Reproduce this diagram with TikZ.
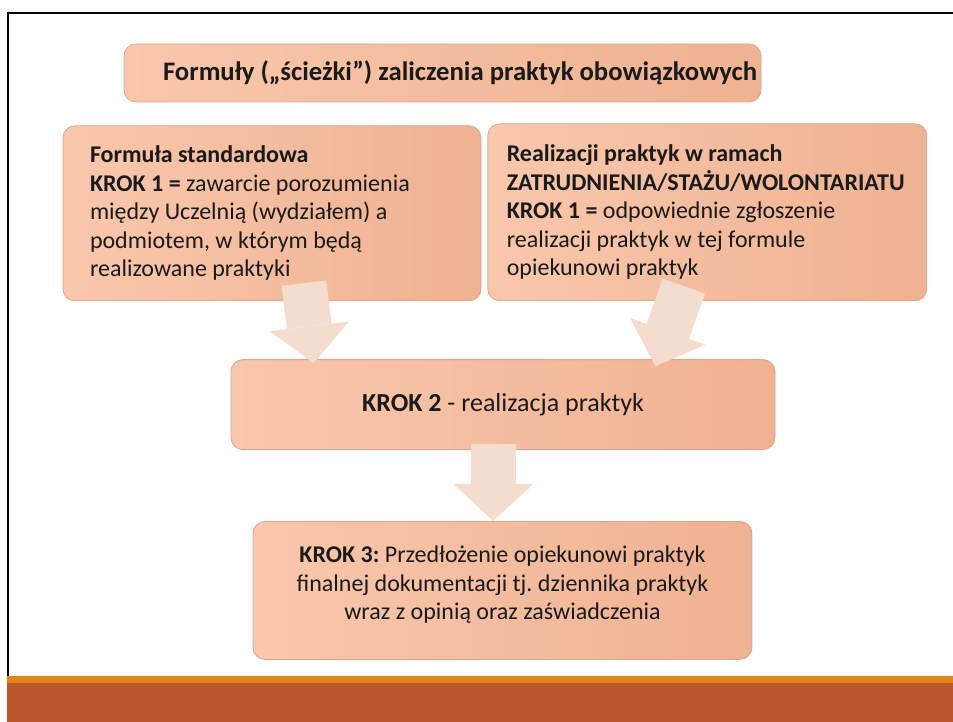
\documentclass[tikz,border=0pt]{standalone}
\usepackage{fontspec}
\setmainfont{Carlito}
\usepackage{xcolor}
\usepackage{tikz}
\usetikzlibrary{positioning,calc}
\usetikzlibrary{arrows.meta}
\hyphenpenalty=10000
\exhyphenpenalty=10000
\frenchspacing

\definecolor{boxleft}{HTML}{F9C7AC}
\definecolor{boxright}{HTML}{EFB292}
\definecolor{boxline}{HTML}{D5A690}
\definecolor{arrowfill}{HTML}{F4DDCF}
\definecolor{stripe}{HTML}{E3831B}
\definecolor{barbrown}{HTML}{BC572B}
\definecolor{inktext}{HTML}{1A1A1A}

\begin{document}
\begin{tikzpicture}[x=1pt, y=1pt]
	\useasboundingbox (0,0) rectangle (953,-722);
	\fill[stripe] (7,-676) rectangle (953,-683);
	\fill[barbrown] (7,-683) rectangle (953,-722);
	\draw[line width=1.7pt] (8,-676) -- (8,-13) -- (953,-13);

	\begin{scope}[every node/.style={draw=boxline, line width=0.8pt, rounded corners=12pt, left color=boxleft, right color=boxright, text=inktext, font=\fontsize{24pt}{28.5pt}\selectfont}]
	    \node[minimum height=58pt, text width=559pt, inner xsep=39pt, inner ysep=0pt, align=flush left, font=\fontsize{26.7pt}{30pt}\selectfont] (title) at (442.5,-73) {\mbox{\textbf{Formuły („ścieżki”) zaliczenia praktyk obowiązkowych}}};
	    \node[below = 23pt of title.south west, anchor=north west, xshift=-61pt, minimum height=175pt, text width=364pt, inner xsep=27pt, inner ysep=0pt, align=flush left] (std) {\textbf{Formuła standardowa}\\\textbf{KROK 1 =} zawarcie porozumienia\\między Uczelnią (wydziałem) a\\podmiotem, w którym będą\\realizowane praktyki};
	    \node[right = 6pt of std.north east, anchor=north west, yshift=2pt, minimum height=177pt, text width=401pt, inner xsep=19pt, inner ysep=0pt, align=flush left] (job) {\textbf{Realizacji praktyk w ramach}\\\textbf{ZATRUDNIENIA/STAŻU/WOLONTARIATU}\\\textbf{KROK 1 =} odpowiednie zgłoszenie\\realizacji praktyk w tej formule\\opiekunowi praktyk};
	    \node[below = 58pt of std.south west, anchor=north west, xshift=168pt, minimum height=90pt, minimum width=544pt, align=center, font=\fontsize{26pt}{30pt}\selectfont] (step2) {\textbf{KROK 2} - realizacja praktyk};
	    \node[below = 71pt of step2.south, xshift=-0.5pt, minimum height=138pt, minimum width=499pt, align=center] (step3) {\textbf{KROK 3:} Przedłożenie opiekunowi praktyk\\finalnej dokumentacji tj. dziennika praktyk\\wraz z opinią oraz zaświadczenia\\[-14pt]\mbox{}};
	\end{scope}

	\path [line width=45pt, color=arrowfill, -{Triangle[length=37pt, width=80pt, line width=0pt]}] ([xshift=32pt, yshift=18pt]std.south) edge ([xshift=83pt, yshift=-4pt]step2.north west);
	\path [line width=45pt, color=arrowfill, -{Triangle[length=37pt, width=80pt, line width=0pt]}] ([xshift=-23.5pt, yshift=15pt]job.south) edge ([xshift=-120pt, yshift=-7pt]step2.north east);
	\path [line width=45pt, color=arrowfill, -{Triangle[length=37pt, width=80pt, line width=0pt]}] ([xshift=-9.5pt, yshift=6pt]step2.south) edge ([xshift=-9.5pt]step3.north);

\end{tikzpicture}
\end{document}
